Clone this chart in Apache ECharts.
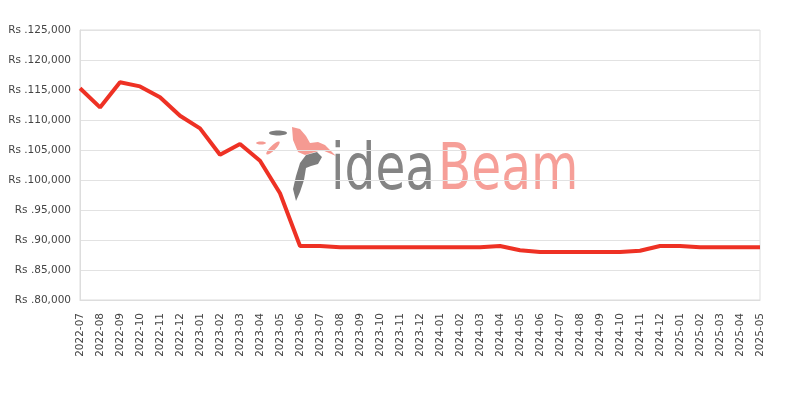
<!DOCTYPE html>
<html>
<head>
<meta charset="utf-8">
<script src="https://cdn.jsdelivr.net/npm/echarts@6/dist/echarts.min.js"></script>
<style>html,body{margin:0;padding:0;background:#fff}#c{width:800px;height:400px}</style>
</head>
<body>
<div id="c"></div>
<script>
var months = ["2022-07","2022-08","2022-09","2022-10","2022-11","2022-12","2023-01","2023-02","2023-03","2023-04","2023-05","2023-06","2023-07","2023-08","2023-09","2023-10","2023-11","2023-12","2024-01","2024-02","2024-03","2024-04","2024-05","2024-06","2024-07","2024-08","2024-09","2024-10","2024-11","2024-12","2025-01","2025-02","2025-03","2025-04","2025-05"];
var prices = [115300,112100,116300,115600,113800,110700,108600,104200,106000,103200,97800,89000,89000,88800,88800,88800,88800,88800,88800,88800,88800,89000,88300,88000,88000,88000,88000,88000,88200,89000,89000,88800,88800,88800,88800];
var yMin = 80000, yMax = 125000, yStep = 5000;

function fmt(v){ return 'Rs .' + v.toString().replace(/\B(?=(\d{3})+(?!\d))/g, ','); }

var logoFont = 'normal 64px "DejaVu Sans", sans-serif';
var chart = echarts.init(document.getElementById('c'), null, {renderer:'canvas'});
chart.setOption({
  animation: false,
  backgroundColor: '#fff',
  grid: {left: 80, right: 40, top: 30, bottom: 100, show: true, borderColor: '#dddddd', borderWidth: 1, containLabel: false},
  graphic: [
    {type:'text', x: 331, y: 140, scaleX: 0.76, originX: 0, z: 0, style:{text:'idea', fill:'#7d7d7d', font: logoFont, verticalAlign:'top', opacity:0.95}},
    {type:'text', x: 438, y: 140, scaleX: 0.76, originX: 0, z: 0, style:{text:'Beam', fill:'#f59a92', font: logoFont, verticalAlign:'top', opacity:0.95}},
    {type:'polygon', z:0, shape:{points:[[292,127],[300,129],[306,136],[310,143],[318,142],[325,145],[336,156],[322,150],[315,152],[305,155],[298,152],[293,140]]}, style:{fill:'#f59a92'}},
    {type:'polygon', z:0, shape:{points:[[306,155],[300,163],[296,176],[293,189],[296,201],[300,192],[304,180],[306,168],[311,166],[318,164],[322,157],[317,152]]}, style:{fill:'#7d7d7d'}},
    {type:'ellipse', shape:{cx:278, cy:133, rx:9, ry:2.5}, z:0, style:{fill:'#7d7d7d'}},
    {type:'ellipse', shape:{cx:273, cy:148, rx:2.5, ry:9}, rotation:-0.8, originX:273, originY:148, z:0, style:{fill:'#f59a92'}},
    {type:'ellipse', shape:{cx:261, cy:143, rx:5, ry:1.5}, z:0, style:{fill:'#f59a92'}}
  ],
  xAxis: {
    type: 'category',
    data: months,
    boundaryGap: false,
    axisLine: {show: true, lineStyle: {color: '#dddddd'}},
    axisTick: {show: false},
    splitLine: {show: false},
    axisLabel: {rotate: 90, interval: 0, margin: 13, color: '#444', fontSize: 10.5, fontFamily: 'DejaVu Sans'}
  },
  yAxis: {
    type: 'value',
    min: yMin, max: yMax, interval: yStep,
    axisLine: {show: true, lineStyle: {color: '#dddddd'}},
    axisTick: {show: false},
    splitLine: {show: true, lineStyle: {color: '#e2e2e2'}},
    axisLabel: {formatter: fmt, color: '#444', fontSize: 10.5, fontFamily: 'DejaVu Sans', margin: 9}
  },
  series: [{
    type: 'line',
    data: prices,
    showSymbol: false,
    symbol: 'none',
    z: 5,
    lineStyle: {color: '#ee3124', width: 4}
  }]
});
</script>
</body>
</html>
